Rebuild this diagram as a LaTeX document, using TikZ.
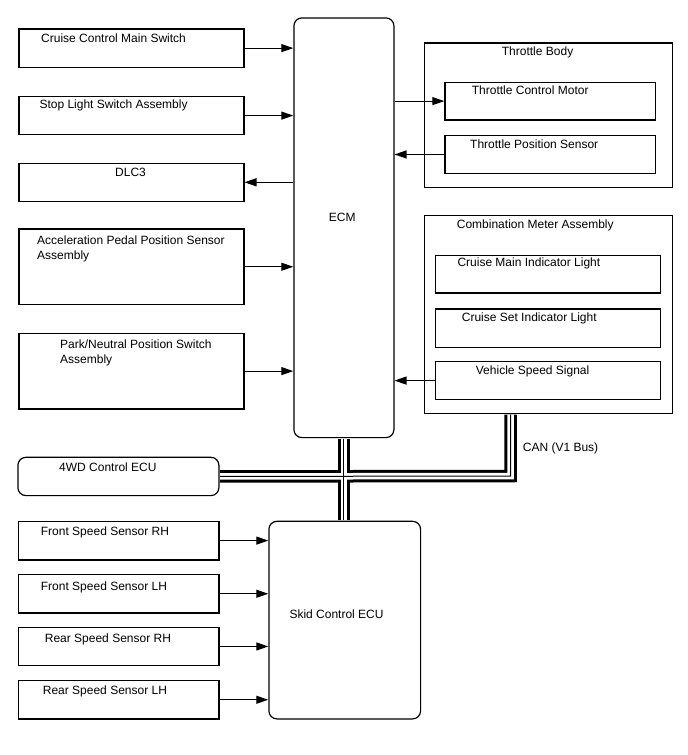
\documentclass[tikz,border=0pt]{standalone}
\usepackage{fontspec}
\setmainfont{Liberation Sans}
\usetikzlibrary{arrows.meta,calc}

\tikzset{
  blk/.style={draw,line width=1.2pt,inner sep=0pt,anchor=north west},
  ecu/.style={blk,rounded corners=8pt},
  txt/.style={inner sep=0pt,anchor=base west,align=left,font=\fontsize{12}{14.5}\selectfont},
  sig/.style={line width=1.1pt,-{Triangle[length=12pt,width=8pt]}},
  busa/.style={line width=12.5pt,shorten <=0.6pt,shorten >=0.6pt},
  busb/.style={line width=6.5pt,white,shorten <=0.6pt,shorten >=0.6pt},
  busc/.style={line width=1pt,shorten <=0.6pt,shorten >=0.6pt},
}

\begin{document}
\begin{tikzpicture}[x=1pt,y=-1pt]
  \useasboundingbox (0,0) rectangle (688,755);

  % inputs and outputs of the ECM
  \node[blk,minimum width=225pt,minimum height=38.4pt] (ccms) at (18.3,28.3) {};
  \node[blk,minimum width=225pt,minimum height=38pt] (stop) at (18.3,96) {};
  \node[blk,minimum width=225pt,minimum height=38pt] (dlc) at (18.3,162.7) {};
  \node[blk,minimum width=225pt,minimum height=75.7pt] (apps) at (18.3,228.3) {};
  \node[blk,minimum width=225pt,minimum height=75.6pt] (pnp) at (18.3,332.7) {};

  \node[ecu,minimum width=100pt,minimum height=419.7pt] (ecm) at (293.3,17.3) {};

  % throttle body
  \node[blk,minimum width=247.7pt,minimum height=144.4pt] (tb) at (424,42.3) {};
  \node[blk,minimum width=210.7pt,minimum height=37.6pt] (tcm) at (444.3,81.7) {};
  \node[blk,minimum width=210.7pt,minimum height=37.7pt] (tps) at (444.3,135) {};

  % combination meter
  \node[blk,minimum width=247.7pt,minimum height=197.7pt] (comb) at (424,215) {};
  \node[blk,minimum width=225pt,minimum height=37.3pt] (cmil) at (435,255) {};
  \node[blk,minimum width=225pt,minimum height=38.4pt] (csil) at (435,308.3) {};
  \node[blk,minimum width=225pt,minimum height=38pt] (vss) at (435,361) {};

  % brake side
  \node[ecu,minimum width=201pt,minimum height=38.3pt] (wd) at (17.3,456.7) {};
  \node[ecu,minimum width=151.7pt,minimum height=197.6pt] (skid) at (268.3,520.7) {};
  \node[blk,minimum width=200.3pt,minimum height=38.6pt] (frs) at (18,520.7) {};
  \node[blk,minimum width=200.3pt,minimum height=38.3pt] (fls) at (18,574) {};
  \node[blk,minimum width=200.3pt,minimum height=38.3pt] (rrs) at (18,626.7) {};
  \node[blk,minimum width=200.3pt,minimum height=38.3pt] (rls) at (18,680) {};

  % labels (two-line ones sit on their last line)
  \node[txt] (ccms-t) at (41,42.8) {Cruise Control Main Switch};
  \node[txt] (stop-t) at (39.3,108.5) {Stop Light Switch Assembly};
  \node[txt] (dlc-t) at (115,176) {DLC3};
  \node[txt] (apps-t) at (37,259) {Acceleration Pedal Position Sensor\\Assembly};
  \node[txt] (pnp-t) at (60,363) {Park/Neutral Position Switch\\Assembly};
  \node[txt] (ecm-t) at (328.7,221.5) {ECM};
  \node[txt] (tb-t) at (501.7,55) {Throttle Body};
  \node[txt] (tcm-t) at (471.7,94.5) {Throttle Control Motor};
  \node[txt] (tps-t) at (470,148.5) {Throttle Position Sensor};
  \node[txt] (comb-t) at (456.7,228.5) {Combination Meter Assembly};
  \node[txt] (cmil-t) at (457.3,266.5) {Cruise Main Indicator Light};
  \node[txt] (csil-t) at (461.7,321.5) {Cruise Set Indicator Light};
  \node[txt] (vss-t) at (475.7,374) {Vehicle Speed Signal};
  \node[txt] (can-t) at (522.7,451.5) {CAN (V1 Bus)};
  \node[txt] (wd-t) at (59,471.5) {4WD Control ECU};
  \node[txt] (skid-t) at (289.3,618.5) {Skid Control ECU};
  \node[txt] (frs-t) at (40.7,535) {Front Speed Sensor RH};
  \node[txt] (fls-t) at (40.7,590) {Front Speed Sensor LH};
  \node[txt] (rrs-t) at (44.7,642) {Rear Speed Sensor RH};
  \node[txt] (rls-t) at (42.7,694.5) {Rear Speed Sensor LH};

  % signal lines
  \draw[sig] (ccms.east) -- (ccms.east -| ecm.west);
  \draw[sig] (stop.east) -- (stop.east -| ecm.west);
  \draw[sig] (dlc.east -| ecm.west) -- (dlc.east);
  \draw[sig] (apps.east) -- (apps.east -| ecm.west);
  \draw[sig] (pnp.east) -- (pnp.east -| ecm.west);
  \draw[sig] (ecm.east |- tcm.west) -- (tcm.west);
  \draw[sig] (tps.west) -- (tps.west -| ecm.east);
  \draw[sig] (vss.west) -- (vss.west -| ecm.east);
  \foreach \s in {frs,fls,rrs,rls}
    \draw[sig] (\s.east) -- (\s.east -| skid.west);

  % CAN bus
  \coordinate (cn) at (510.5,476);
  \foreach \b in {busa,busb,busc} {
    \draw[\b] (ecm.south) -- (ecm.south |- skid.north);
    \draw[\b] (wd.east) -- (cn) -- (cn |- comb.south);
  }

\end{tikzpicture}
\end{document}
